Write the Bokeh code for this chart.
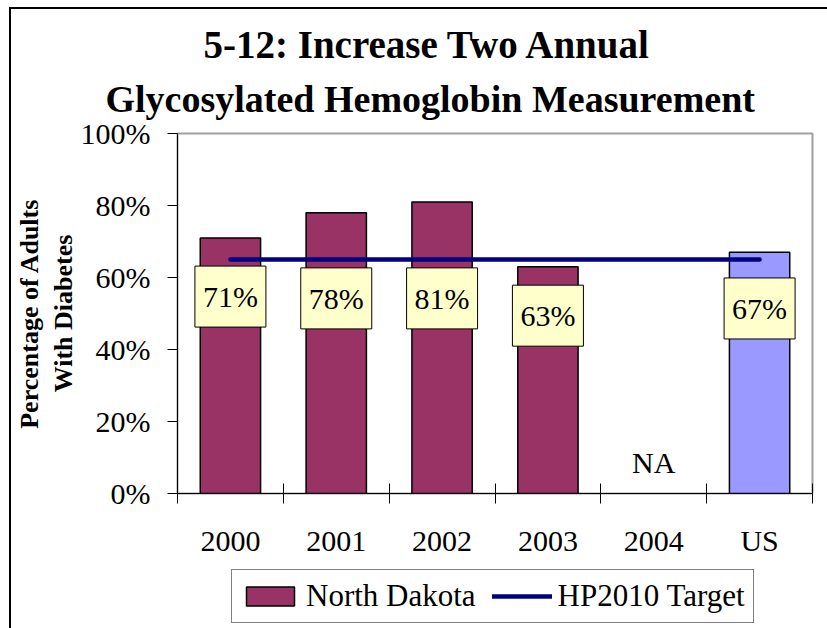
import math
from bokeh.plotting import figure
from bokeh.layouts import column
from bokeh.models import (ColumnDataSource, FixedTicker, NumeralTickFormatter, Label,
                          Legend, LegendItem, Range1d, Title)
from bokeh.embed import file_html
from bokeh.resources import INLINE

# ---- data ----
categories = ["2000", "2001", "2002", "2003", "2004", "US"]
percent_adults = [0.71, 0.78, 0.81, 0.63, float("nan"), 0.67]   # 2004 = NA
series = ["North Dakota", "North Dakota", "North Dakota", "North Dakota", "North Dakota", "US"]
hp2010_target = 0.65
y_ticks = [0, 0.2, 0.4, 0.6, 0.8, 1.0]
title_lines = ["5-12: Increase Two Annual", "Glycosylated Hemoglobin Measurement"]
y_label = "Percentage of Adults\nWith Diabetes"
legend_labels = ["North Dakota", "HP2010 Target"]
# vertical placement (data units) of the value label boxes
label_y = [0.547, 0.542, 0.542, 0.494, 0.086, 0.514]

FONT = "Liberation Serif"
ND_COLOR, US_COLOR, TARGET_COLOR = "#993366", "#9999FF", "#000080"
x_pos = [i + 0.5 for i in range(len(categories))]
texts = ["NA" if math.isnan(v) else f"{round(v * 100)}%" for v in percent_adults]

nd_i = [i for i, s in enumerate(series) if s == "North Dakota"]
us_i = [i for i, s in enumerate(series) if s == "US"]
nd_src = ColumnDataSource(dict(x=[x_pos[i] for i in nd_i], top=[percent_adults[i] for i in nd_i]))
us_src = ColumnDataSource(dict(x=[x_pos[i] for i in us_i], top=[percent_adults[i] for i in us_i]))

p = figure(frame_width=635, frame_height=360, x_range=Range1d(0, len(categories)),
           y_range=Range1d(0, 1), output_backend="svg", toolbar_location=None,
           min_border_left=177, min_border_top=133, min_border_right=15, min_border_bottom=67)
p.grid.visible = False
p.outline_line_color = "#a0a0a0"
p.outline_line_width = 2
p.background_fill_color = "white"
p.border_fill_alpha = 0

nd = p.vbar(x="x", top="top", bottom=0, width=0.57, source=nd_src,
            fill_color=ND_COLOR, line_color="black", line_width=1.5)
us = p.vbar(x="x", top="top", bottom=0, width=0.57, source=us_src,
            fill_color=US_COLOR, line_color="black", line_width=1.5)
tl = p.line(x_pos, [hp2010_target] * len(categories), line_color=TARGET_COLOR,
            line_width=4.5, line_cap="round")

# value labels
for i, v in enumerate(percent_adults):
    if math.isnan(v):
        p.add_layout(Label(x=x_pos[i], y=label_y[i], text=texts[i], text_align="center",
                           text_baseline="middle", text_font=FONT, text_font_size="30px",
                           text_color="black"))
    else:
        p.add_layout(Label(x=x_pos[i], y=label_y[i], text=texts[i], text_align="center",
                           text_baseline="middle", text_font=FONT, text_font_size="30px",
                           text_color="black", background_fill_color="#FFFFCC",
                           border_line_color="black", border_line_width=1,
                           padding=dict(left=8, right=8, top=14, bottom=14)))

# x axis: labels at centres, ticks at boundaries
xa = p.xaxis[0]
xa.ticker = FixedTicker(ticks=x_pos, minor_ticks=list(range(len(categories) + 1)))
xa.major_label_overrides = {x_pos[i]: c for i, c in enumerate(categories)}
xa.major_tick_in = 0
xa.major_tick_out = 0
xa.minor_tick_in = 10
xa.minor_tick_out = 10
xa.minor_tick_line_color = "black"
xa.axis_line_color = "black"
xa.major_label_standoff = 20
xa.major_label_text_font = FONT
xa.major_label_text_font_size = "30px"
xa.major_label_text_color = "black"

ya = p.yaxis[0]
ya.ticker = FixedTicker(ticks=y_ticks, minor_ticks=[])
ya.formatter = NumeralTickFormatter(format="0%")
ya.major_tick_in = 0
ya.major_tick_out = 10
ya.major_tick_line_color = "black"
ya.axis_line_color = "black"
ya.major_label_standoff = 17
ya.major_label_text_font = FONT
ya.major_label_text_font_size = "30px"
ya.major_label_text_color = "black"
ya.axis_label = y_label
ya.axis_label_standoff = 0
ya.axis_label_text_font = FONT
ya.axis_label_text_font_size = "26px"
ya.axis_label_text_font_style = "bold"
ya.axis_label_text_color = "black"
ya.axis_label_text_line_height = 1.15

# title: two lines, nearest-to-frame added first
t2 = Title(text=title_lines[1], align="left", offset=-72, vertical_align="top", standoff=24,
           text_font=FONT, text_font_size="38px", text_font_style="bold", text_color="black")
t1 = Title(text=title_lines[0], align="left", offset=26, vertical_align="bottom", standoff=0,
           text_font=FONT, text_font_size="39px", text_font_style="bold", text_color="black")
p.add_layout(t2, "above")
p.add_layout(t1, "above")

# legend strip below the chart: the same series again as hidden renderers,
# so that only the legend entries show
lg = figure(frame_width=827, frame_height=68, x_range=Range1d(0, len(categories)),
            y_range=Range1d(0, 1), output_backend="svg", toolbar_location=None,
            x_axis_type=None, y_axis_type=None, min_border=0)
lg.grid.visible = False
lg.outline_line_color = None
lg.background_fill_alpha = 0
lg.border_fill_alpha = 0
lg_nd = lg.vbar(x="x", top="top", bottom=0, width=0.57, source=nd_src,
                fill_color=ND_COLOR, line_color="black", line_width=1.5, visible=False)
lg_tl = lg.line(x_pos, [hp2010_target] * len(categories), line_color=TARGET_COLOR,
                line_width=4.5, line_cap="round", visible=False)
legend = Legend(items=[LegendItem(label=legend_labels[0], renderers=[lg_nd]),
                       LegendItem(label=legend_labels[1], renderers=[lg_tl])],
                orientation="horizontal", location=(231, 5),
                glyph_width=60, glyph_height=24, label_standoff=6, spacing=16,
                padding=8, margin=0, border_line_color="black", border_line_width=1,
                label_text_font=FONT, label_text_font_size="31px", label_text_color="black",
                background_fill_color="white", background_fill_alpha=1)
lg.add_layout(legend)

layout = column(p, lg, spacing=0,
                styles={"background": "linear-gradient(#000, #000) 9px 7px / 2px 100% no-repeat, "
                                      "linear-gradient(#000, #000) 9px 7px / 100% 2px no-repeat"})

open("out.html", "w").write(file_html(layout, INLINE))
